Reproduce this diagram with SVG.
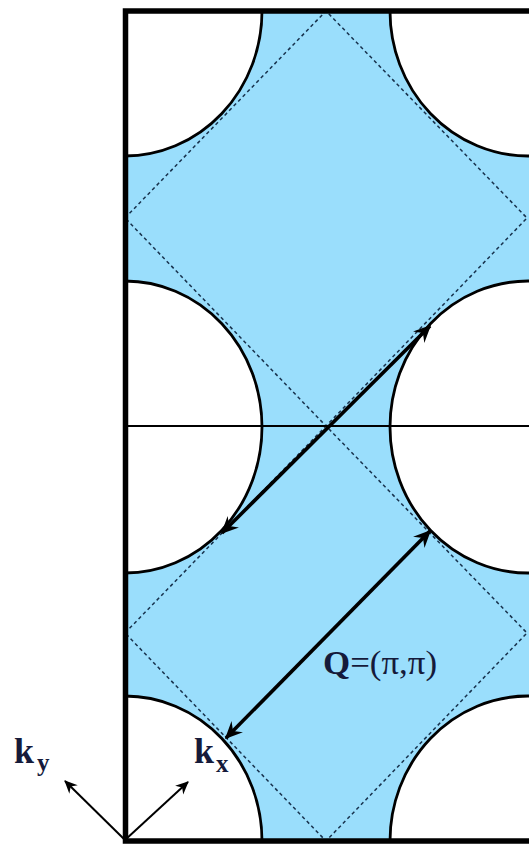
<svg xmlns="http://www.w3.org/2000/svg" width="529" height="844" viewBox="0 0 529 844">
<style>
.hole{fill:#ffffff;stroke:#000;stroke-width:2.8}
.dash{fill:none;stroke:#17324d;stroke-width:1.5;stroke-dasharray:3.5 3}
.q{stroke:#000;stroke-width:3.6;fill:none}
.k{stroke:#000;stroke-width:2;fill:none}
.lbl{font-family:"Liberation Serif","Times New Roman",serif;fill:#151a3a}
</style>
<defs>
<clipPath id="bz"><rect x="125" y="11" width="420" height="830"/></clipPath>
<marker id="ah" markerUnits="userSpaceOnUse" viewBox="-18 -9 20 18" refX="0" refY="0" markerWidth="20" markerHeight="18" orient="auto-start-reverse">
<path d="M1.5,0 L-16,-8 L-10,0 L-16,8 Z" fill="#000"/>
</marker>
<marker id="kh" markerUnits="userSpaceOnUse" viewBox="-13 -7 14 14" refX="0" refY="0" markerWidth="14" markerHeight="14" orient="auto">
<path d="M1,0 L-12,-6 L-8,0 L-12,6 Z" fill="#000"/>
</marker>
</defs>
<g id="zone" clip-path="url(#bz)">
<rect x="125" y="11" width="420" height="830" fill="#9adefc"/>
<g id="holes">
<ellipse class="hole" cx="125" cy="11" rx="137" ry="145"/>
<ellipse class="hole" cx="528" cy="11" rx="138" ry="145"/>
<ellipse class="hole" cx="125" cy="427" rx="137" ry="146"/>
<ellipse class="hole" cx="528" cy="427" rx="138" ry="146"/>
<ellipse class="hole" cx="125" cy="841" rx="137" ry="145"/>
<ellipse class="hole" cx="528" cy="841" rx="138" ry="145"/>
</g>
<g id="diamond">
<path class="dash" d="M125,218 L326,11 L527,218 L326,426 Z"/>
<path class="dash" d="M125,633 L326,426 L527,633 L326,841 Z"/>
</g>
<line x1="125" y1="426" x2="545" y2="426" stroke="#000" stroke-width="2.2"/>
</g>
<g id="frame" fill="none" stroke="#000">
<path d="M545,11 L125.5,11 L125.5,841 L545,841" stroke-width="5.5"/>
</g>
<g id="connectors">
<line class="q" x1="430" y1="326" x2="222" y2="533" marker-start="url(#ah)" marker-end="url(#ah)"/>
<line class="q" x1="430" y1="531" x2="226" y2="738" marker-start="url(#ah)" marker-end="url(#ah)"/>
<line class="k" x1="125" y1="840" x2="65" y2="781" marker-end="url(#kh)"/>
<line class="k" x1="125" y1="840" x2="188" y2="782" marker-end="url(#kh)"/>
</g>
<g id="labels" class="lbl">
<text x="323" y="674" font-size="34" textLength="114" lengthAdjust="spacingAndGlyphs"><tspan font-weight="bold">Q</tspan>=(π,π)</text>
<text x="14" y="763" font-size="36" font-weight="bold">k</text>
<text x="37" y="771" font-size="25" font-weight="bold">y</text>
<text x="194" y="763" font-size="36" font-weight="bold">k</text>
<text x="216" y="772" font-size="25" font-weight="bold">x</text>
</g>
</svg>
